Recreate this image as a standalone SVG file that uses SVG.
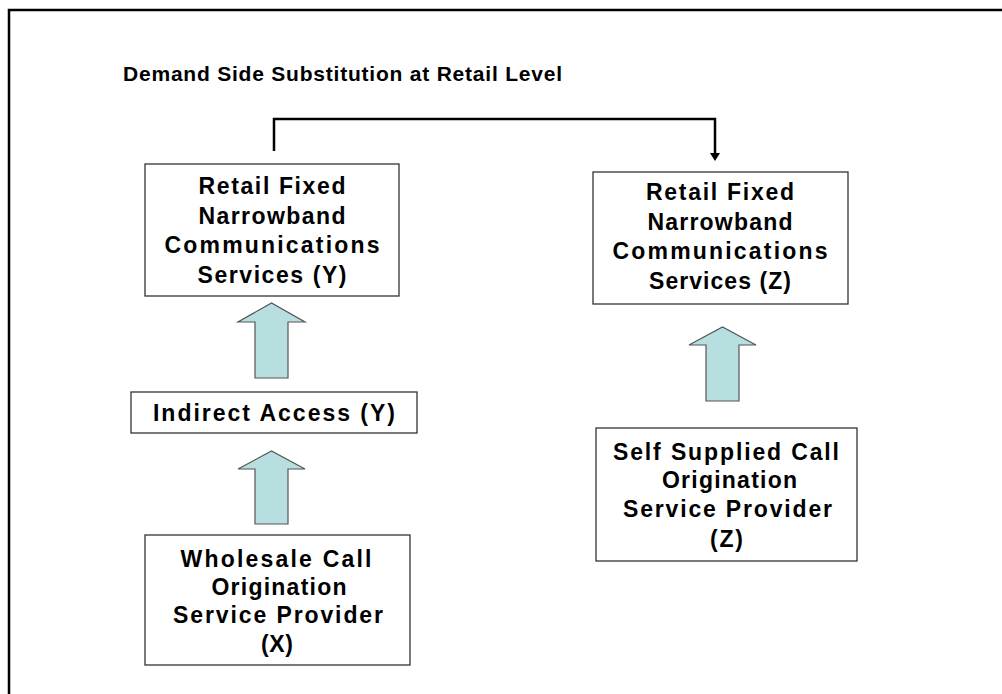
<svg xmlns="http://www.w3.org/2000/svg" width="1002" height="694" viewBox="0 0 1002 694">
  <defs>
    <style>
      .frame { fill: none; stroke: #000; stroke-width: 2.5; }
      .box { fill: #fff; stroke: #333; stroke-width: 1.3; }
      .lbl { font-family: "Liberation Sans", Arial, sans-serif; font-weight: bold; font-size: 23px; fill: #000; text-anchor: middle; }
      .title { font-family: "Liberation Sans", Arial, sans-serif; font-weight: bold; font-size: 21px; fill: #000; }
      .blk { fill: #b8dfe0; stroke: #555; stroke-width: 1.2; }
      .link { fill: none; stroke: #000; stroke-width: 2.5; }
    </style>
  </defs>

  <rect width="1002" height="694" fill="#fff"/>
  <!-- outer frame, running past the right and bottom edges -->
  <rect class="frame" x="9" y="10" width="1010" height="700"/>

  <text class="title" x="123" y="81" textLength="439" lengthAdjust="spacing">Demand Side Substitution at Retail Level</text>

  <!-- connectors -->
  <g id="connectors">
    <path class="link" d="M274,151 V119 H715 V155"/>
    <path d="M710,153 L720,153 L715,161 Z" fill="#000"/>
    <!-- block arrows -->
    <path class="blk" d="M255,378 V322 H238 L271.5,303 L305,322 H288 V378 Z"/>
    <path class="blk" d="M255,524 V469 H238 L271.5,451 L305,469 H288 V524 Z"/>
    <path class="blk" d="M706,401 V345 H689 L722.5,327 L756,345 H739 V401 Z"/>
  </g>

  <g id="retail-y">
    <rect class="box" x="145" y="164" width="254" height="132"/>
    <text class="lbl" x="272" y="194" textLength="147" lengthAdjust="spacing">Retail Fixed</text>
    <text class="lbl" x="272" y="223.5" textLength="147" lengthAdjust="spacing">Narrowband</text>
    <text class="lbl" x="272" y="253" textLength="215" lengthAdjust="spacing">Communications</text>
    <text class="lbl" x="272" y="282.5" textLength="149" lengthAdjust="spacing">Services (Y)</text>
  </g>

  <g id="retail-z">
    <rect class="box" x="593" y="172" width="255" height="132"/>
    <text class="lbl" x="720" y="200" textLength="148" lengthAdjust="spacing">Retail Fixed</text>
    <text class="lbl" x="720" y="229.5" textLength="145" lengthAdjust="spacing">Narrowband</text>
    <text class="lbl" x="720" y="259" textLength="215" lengthAdjust="spacing">Communications</text>
    <text class="lbl" x="720" y="288.5" textLength="142" lengthAdjust="spacing">Services (Z)</text>
  </g>

  <g id="indirect-access">
    <rect class="box" x="131" y="392" width="286" height="41"/>
    <text class="lbl" x="274" y="421" textLength="242" lengthAdjust="spacing">Indirect Access (Y)</text>
  </g>

  <g id="wholesale-x">
    <rect class="box" x="145" y="535" width="265" height="130"/>
    <text class="lbl" x="276" y="567" textLength="191" lengthAdjust="spacing">Wholesale Call</text>
    <text class="lbl" x="279" y="595" textLength="135" lengthAdjust="spacing">Origination</text>
    <text class="lbl" x="278" y="623" textLength="210" lengthAdjust="spacing">Service Provider</text>
    <text class="lbl" x="277" y="652" textLength="32" lengthAdjust="spacing">(X)</text>
  </g>

  <g id="self-supplied-z">
    <rect class="box" x="596" y="428" width="261" height="133"/>
    <text class="lbl" x="726" y="460" textLength="226" lengthAdjust="spacing">Self Supplied Call</text>
    <text class="lbl" x="729.5" y="488" textLength="135" lengthAdjust="spacing">Origination</text>
    <text class="lbl" x="727.5" y="517" textLength="209" lengthAdjust="spacing">Service Provider</text>
    <text class="lbl" x="726.5" y="547" textLength="33" lengthAdjust="spacing">(Z)</text>
  </g>
</svg>
